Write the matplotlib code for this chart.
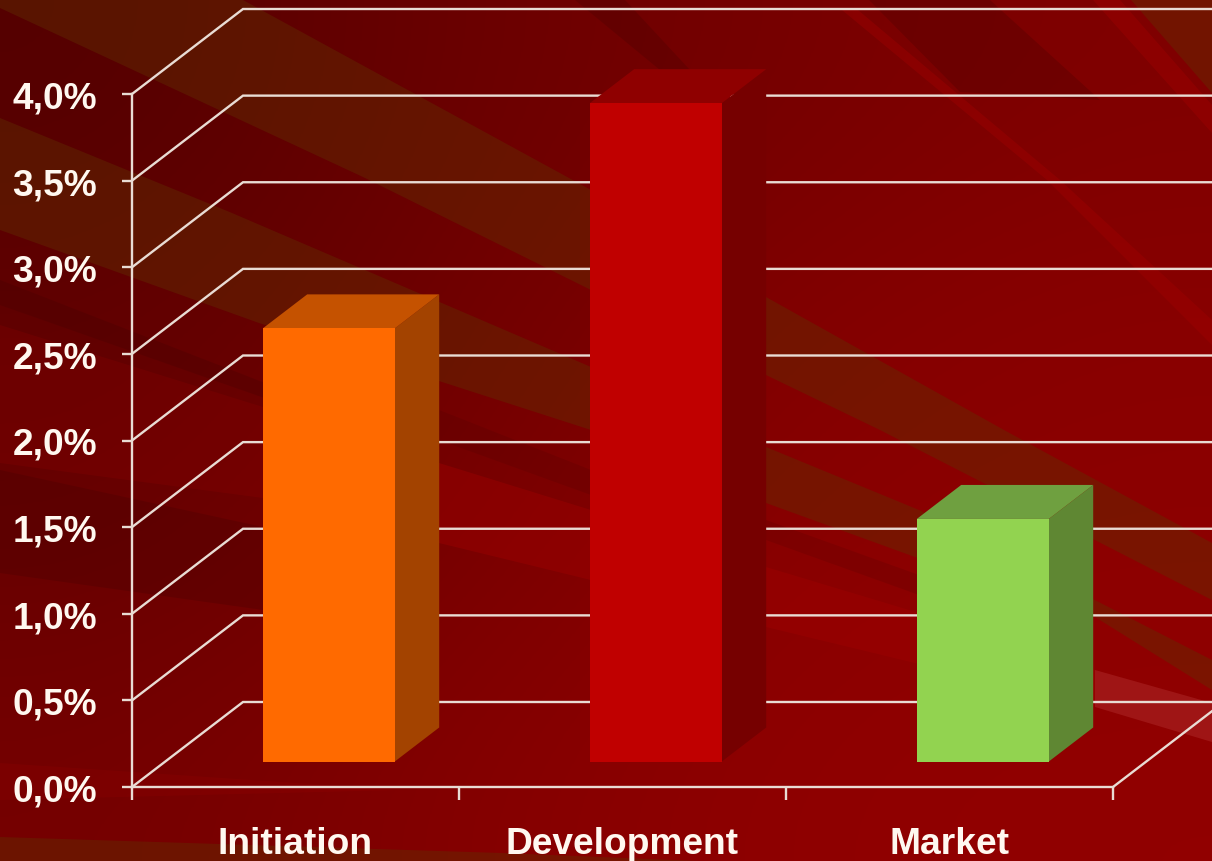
import numpy as np
import matplotlib
matplotlib.use("Agg")
import matplotlib.pyplot as plt
from matplotlib.patches import Polygon
from matplotlib.ticker import FuncFormatter
from matplotlib.transforms import ScaledTranslation

categories = ["Initiation", "Development", "Market"]
values = [2.5, 3.8, 1.4]
front_colors = ["#ff6a00", "#c00000", "#92d350"]
side_colors = ["#a34300", "#760000", "#5f8733"]
top_colors = ["#c55200", "#8f0000", "#6fa040"]
y_ticks = [0.0, 0.5, 1.0, 1.5, 2.0, 2.5, 3.0, 3.5, 4.0]

W, H = 1212, 861
LINE = "#e9dcd4"
TEXT = "#fff8f0"

plt.rcParams["font.family"] = ["Liberation Sans", "DejaVu Sans"]
fig = plt.figure(figsize=(W / 100, H / 100), dpi=100)

# Backdrop: dark red gradient with translucent rays, laid out in pixel space
bg = fig.add_axes([0, 0, 1, 1], zorder=0)
bg.set_xlim(0, W)
bg.set_ylim(H, 0)
bg.axis("off")
gradient = np.array([
    [[0.33, 0, 0], [0.42, 0, 0], [0.46, 0, 0], [0.50, 0, 0]],
    [[0.38, 0, 0], [0.44, 0, 0], [0.51, 0, 0], [0.54, 0, 0]],
    [[0.40, 0, 0], [0.47, 0, 0], [0.54, 0, 0], [0.55, 0, 0]],
    [[0.46, 0, 0], [0.52, 0, 0], [0.56, 0, 0], [0.57, 0, 0]],
])
bg.imshow(gradient, extent=(0, W, H, 0), aspect="auto", interpolation="bicubic", zorder=0)


def rays(polygons, color, alpha):
    for ray in polygons:
        bg.add_patch(Polygon(ray, closed=True, fc=color, ec="none", alpha=alpha, zorder=1))


rays([
    [(243, 0), (591, 190), (766, 297), (1004, 430), (1212, 543), (1212, 600), (880, 430),
     (766, 375), (591, 290), (363, 177), (0, 8), (0, 0)],
    [(0, 118), (232, 213), (591, 367), (766, 447), (919, 510), (1212, 660), (1212, 690),
     (1095, 617), (915, 557), (766, 503), (591, 430), (259, 323), (0, 230)],
    [(1131, 0), (1212, 0), (1212, 93)],
    [(0, 837), (502, 853), (700, 861), (0, 861)],
], "#603000", 0.42)

rays([
    [(0, 325), (263, 407), (439, 463), (263, 498), (0, 463)],
    [(0, 763), (400, 790), (0, 800)],
], "#a00000", 0.18)

rays([
    [(439, 463), (591, 510), (766, 567), (919, 613), (1095, 670), (1212, 703), (1212, 742),
     (1095, 707), (915, 663), (766, 627), (591, 580), (439, 543)],
    [(1093, 0), (1120, 0), (1212, 105), (1212, 133)],
    [(842, 10), (858, 10), (1060, 180), (1212, 320), (1212, 345), (1047, 180)],
], "#a00000", 0.42)

# Pale sliver over the floor at the right edge
rays([[(1095, 670), (1212, 703), (1212, 742), (1095, 707)]], "#c06060", 0.22)

rays([
    [(0, 280), (270, 385), (270, 400), (0, 305)],
    [(0, 470), (263, 527), (420, 565), (263, 610), (0, 573)],
    [(869, 0), (990, 0), (1100, 100), (960, 92)],
    [(575, 0), (625, 0), (690, 70), (660, 70)],
], "#400000", 0.25)

rays([
    [(439, 440), (591, 495), (591, 470), (439, 410)],
    [(766, 520), (919, 575), (919, 595), (766, 540)],
], "#400000", 0.15)

# Chart axes: the front plane of the 3-D box
x0, x1, y0, y1 = 132, 1113, 787, 94
ax = fig.add_axes([x0 / W, 1 - y0 / H, (x1 - x0) / W, (y0 - y1) / H], zorder=1)
ax.patch.set_alpha(0)
ax.set_xlim(-0.5, 2.5)
ax.set_ylim(0, 4)

# Depth of the box in data units
px_x = 3 / (x1 - x0)
px_y = 4 / (y0 - y1)
depth_x = 111 * px_x
depth_y = 85 * px_y

for v in y_ticks:
    ax.plot([-0.5, -0.5 + depth_x, 2.5 + depth_x], [v, v + depth_y, v + depth_y],
            color=LINE, lw=1.7, clip_on=False, zorder=1, solid_joinstyle="miter")
ax.plot([2.5, 2.5 + depth_x], [0, depth_y], color=LINE, lw=1.7, clip_on=False, zorder=1)

# Bars: front face through ax.bar, plus top and side faces offset along the depth
bar_width = 132 * px_x
near = 0.30
far = 0.70
for i, v in enumerate(values):
    cx = i + near * depth_x
    base = near * depth_y
    off_x = (far - near) * depth_x
    off_y = (far - near) * depth_y
    l, r = cx - bar_width / 2, cx + bar_width / 2
    ax.bar(cx, v, width=bar_width, bottom=base, color=front_colors[i], zorder=4, clip_on=False)
    ax.add_patch(Polygon([(r, base), (r + off_x, base + off_y), (r + off_x, base + v + off_y), (r, base + v)],
                         closed=True, fc=side_colors[i], ec="none", zorder=3, clip_on=False))
    ax.add_patch(Polygon([(l, base + v), (r, base + v), (r + off_x, base + v + off_y), (l + off_x, base + v + off_y)],
                         closed=True, fc=top_colors[i], ec="none", zorder=3, clip_on=False))

for side in ("top", "right"):
    ax.spines[side].set_visible(False)
for side in ("left", "bottom"):
    ax.spines[side].set_color(LINE)
    ax.spines[side].set_linewidth(1.7)

ax.set_yticks(y_ticks)
ax.yaxis.set_major_formatter(FuncFormatter(lambda v, _: f"{v:.1f}".replace(".", ",") + "%"))
ax.tick_params(axis="y", length=7, width=1.7, color=LINE, labelcolor=TEXT, labelsize=26.7, pad=18)
ax.set_xticks([-0.5, 0.5, 1.5, 2.5])
ax.set_xticklabels([])
ax.set_xticks([0, 1, 2], minor=True)
ax.set_xticklabels(categories, minor=True)
ax.tick_params(axis="x", which="major", length=9, width=1.7, color=LINE)
ax.tick_params(axis="x", which="minor", length=0, labelcolor=TEXT, labelsize=26.7, pad=29)
for label in ax.get_yticklabels() + ax.get_xticklabels(minor=True):
    label.set_fontweight("bold")
for label in ax.get_yticklabels():
    label.set_verticalalignment("top")
    label.set_transform(label.get_transform() + ScaledTranslation(0, 9 / 72, fig.dpi_scale_trans))

fig.savefig("out.png", dpi=100)
